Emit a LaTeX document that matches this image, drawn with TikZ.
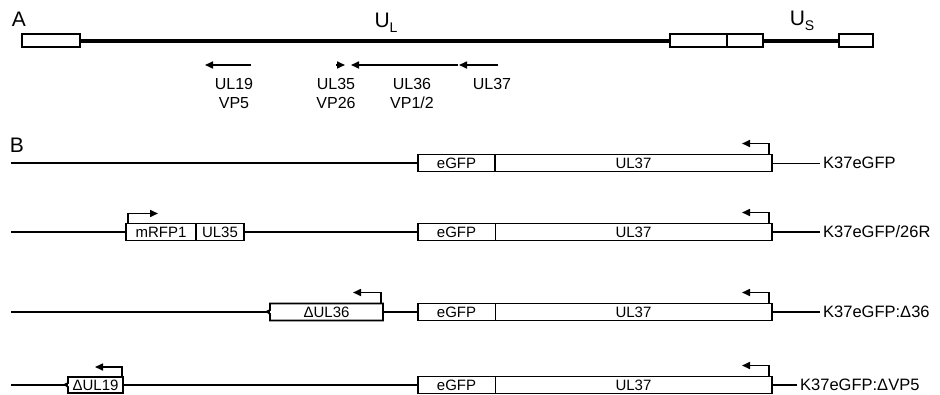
\documentclass[tikz,border=0pt]{standalone}
\usepackage{fontspec}
\setmainfont{Liberation Sans}
\usetikzlibrary{arrows.meta,positioning}

\begin{document}
\begin{tikzpicture}[
  x=1pt,y=-1pt,
  seg/.style={draw, line width=1.8pt, fill=white, inner sep=0pt, outer sep=0pt, minimum height=13pt},
  genome/.style={line width=4pt},
  dna/.style={line width=1.8pt},
  panel/.style={inner sep=0pt, font=\fontsize{21}{21}\selectfont},
  txt/.style={inner sep=0pt, font=\fontsize{16}{19}\selectfont, align=center},
  lbl/.style={inner xsep=3pt, inner ysep=0pt, anchor=west, font=\fontsize{16.5}{16.5}\selectfont},
  cassette/.style={inner sep=0pt, outer sep=0pt, minimum height=17pt, font=\fontsize{15}{15}\selectfont},
  genebox/.style={cassette, draw, line width=1.8pt},
  orf/.style={-{Triangle[length=8pt,width=7pt]}, line width=1.6pt},
  promoter/.style={-{Triangle[length=8pt,width=7pt]}, line width=1.6pt}
]
\useasboundingbox (0,0) rectangle (940,394);

% A: genome
\node[panel] (labA) at (19,19) {A};
\node[seg, minimum width=58pt] (trl) at (51,40.5) {};
\node[seg, minimum width=57pt] (irl) at (698.5,40.5) {};
\node[seg, minimum width=36pt] (irs) at (745,40.5) {};
\node[seg, minimum width=34pt] (trs) at (856,40.5) {};
\draw[genome] (trl.east) -- (irl.west);
\draw[genome] (irs.east) -- (trs.west);
\node[panel] (ul) at (386,23) {U\raisebox{-5pt}{\fontsize{14}{14}\selectfont L}};
\node[panel] (us) at (802,21) {U\raisebox{-5pt}{\fontsize{14}{14}\selectfont S}};

\coordinate (ul19s) at (251,65);
\coordinate (ul19e) at (205,65);
\coordinate (ul35s) at (336,65);
\coordinate (ul35e) at (345,65);
\coordinate (ul36s) at (458,65);
\coordinate (ul36e) at (351,65);
\coordinate (ul37s) at (498,65);
\coordinate (ul37e) at (459,65);
\draw[orf] (ul19s) -- (ul19e);
\draw[orf] (ul35s) -- (ul35e);
\draw[orf] (ul36s) -- (ul36e);
\draw[orf] (ul37s) -- (ul37e);
\node[txt] (t19) at (234,93) {UL19\\VP5};
\node[txt] (t35) at (336,93) {UL35\\VP26};
\node[txt] (t36) at (412,93) {UL36\\VP1/2};
\node[txt] (t37) at (492,84) {UL37};

% B: constructs
\node[panel] (labB) at (17,145) {B};
\foreach \y/\i/\name/\lw/\lx/\dw in {163/1/K37eGFP/1pt/820/1.8pt,
    232/2/{K37eGFP/26R}/1.8pt/820/0.6pt,
    312/3/{K37eGFP:Δ36}/1.8pt/820/0.6pt,
    385/4/{K37eGFP:ΔVP5}/1.8pt/797/0.6pt}{
  \coordinate (start\i) at (11,\y);
  \node[cassette, minimum width=77pt, anchor=west] (egfp\i) at (418,\y) {eGFP};
  \node[cassette, minimum width=277pt, right=0pt of egfp\i] (ul37\i) {UL37};
  \draw[line width=1.8pt] (egfp\i.north west) rectangle (ul37\i.south east);
  \draw[line width=\dw] (egfp\i.north east) -- (egfp\i.south east);
  \draw[promoter] ([xshift=-3pt]ul37\i.north east) |- ++(-27,-11);
  \node[lbl] (name\i) at (\lx,\y) {\name};
  \draw[line width=\lw] (ul37\i.east) -- (name\i.west);
}

\draw[dna] (start1) -- (egfp1.west);

% mRFP1-UL35 fusion
\node[genebox, minimum width=70pt, anchor=west] (mrfp) at (126,232) {mRFP1};
\node[genebox, minimum width=48pt, right=0pt of mrfp] (ul35) {UL35};
\draw[promoter] ([xshift=2pt]mrfp.north west) |- ++(30,-10);
\draw[dna] (start2) -- (mrfp.west);
\draw[dna] (ul35.east) -- (egfp2.west);

% UL36 deletion
\node[cassette, minimum width=113pt, anchor=west] (dul36) at (270,312) {ΔUL36};
\draw[line width=1.8pt] (dul36.north west) -- (dul36.north east) -- (dul36.south east)
  -- (dul36.south west) -- ++(0,-6.5) -- ++(-3,-2.5) -- ++(3,-1.5) -- cycle;
\draw[promoter] ([xshift=-2pt]dul36.north east) |- ++(-28,-11);
\draw[dna] (start3) -- (dul36.west);
\draw[dna] (dul36.east) -- (egfp3.west);

% UL19 deletion
\node[cassette, minimum width=55pt, minimum height=16pt, anchor=west] (dul19) at (68,385) {ΔUL19};
\draw[line width=1.8pt] (dul19.north west) -- (dul19.north east) -- (dul19.south east)
  -- (dul19.south west) -- ++(0,-6) -- ++(-3,-2.5) -- ++(3,-1.5) -- cycle;
\draw[promoter] ([xshift=-1pt]dul19.north east) |- ++(-27,-10);
\draw[dna] (start4) -- (dul19.west);
\draw[dna] (dul19.east) -- (egfp4.west);
\end{tikzpicture}
\end{document}
